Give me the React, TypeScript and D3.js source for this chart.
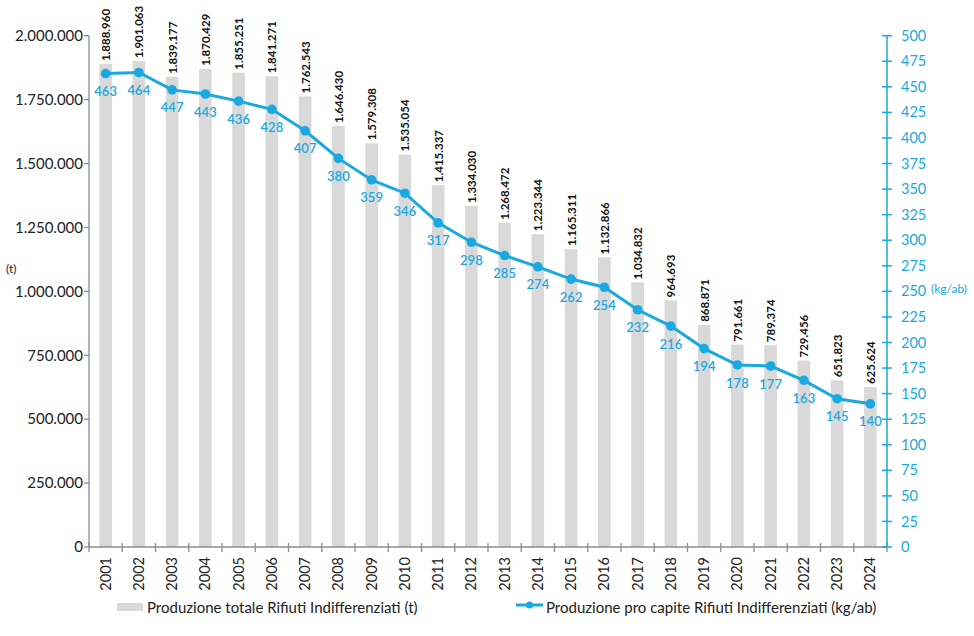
import React from "react";
import * as d3 from "d3";

const years = ["2001","2002","2003","2004","2005","2006","2007","2008","2009","2010","2011","2012","2013","2014","2015","2016","2017","2018","2019","2020","2021","2022","2023","2024"];
const totals = [1888960,1901063,1839177,1870429,1855251,1841271,1762543,1646430,1579308,1535054,1415337,1334030,1268472,1223344,1165311,1132866,1034832,964693,868871,791661,789374,729456,651823,625624];
const perCapita = [463,464,447,443,436,428,407,380,359,346,317,298,285,274,262,254,232,216,194,178,177,163,145,140];
const leftTicks = d3.range(0, 2000001, 250000);
const rightTicks = d3.range(0, 501, 25);

const BLUE = "#19A9E1";
const GRAY_AXIS = "#8C8C8C";
const BAR = "#D9D9D9";
const FONT = "Lato, 'Open Sans', sans-serif";

const fmt = (v: number) => d3.format(",")(v).replace(/,/g, ".");

export default function App() {
  const W = 974, H = 636;
  const left = 89, right = 887, top = 35.7, bottom = 547;

  const x = d3.scaleBand().domain(years).range([left, right]).paddingInner(0.62).paddingOuter(0.31);
  const band = d3.scaleBand().domain(years).range([left, right]);
  const yL = d3.scaleLinear().domain([0, 2000000]).range([bottom, top]);
  const yR = d3.scaleLinear().domain([0, 500]).range([bottom, top]);
  const cx = (i: number) => band(years[i])! + band.bandwidth() / 2;

  const line = d3.line<number>().x((_, i) => cx(i)).y((d) => yR(d));

  return (
    <svg width={W} height={H} style={{ position: "absolute", left: 0, top: 0, fontFamily: FONT }}>
      <rect width={W} height={H} fill="#fff" />

      {/* bars */}
      {totals.map((v, i) => (
        <rect key={years[i]} x={cx(i) - x.bandwidth() / 2} y={yL(v)} width={x.bandwidth()} height={bottom - yL(v)} fill={BAR} />
      ))}

      {/* bar labels */}
      {totals.map((v, i) => (
        <text key={"bl" + i} transform={`translate(${cx(i) + 4.5},${yL(v) - 3}) rotate(-90)`} fontSize={11.5} fontWeight={700} fill="#111">
          {fmt(v)}
        </text>
      ))}

      {/* left axis */}
      <line x1={left} x2={left} y1={top} y2={bottom} stroke={GRAY_AXIS} strokeWidth={1.3} />
      {leftTicks.map((t) => (
        <g key={"lt" + t}>
          <line x1={left - 5} x2={left} y1={yL(t)} y2={yL(t)} stroke={GRAY_AXIS} strokeWidth={1.3} />
          <text x={left - 6} y={yL(t)} dy="0.35em" textAnchor="end" fontSize={15} fill="#222">{fmt(t)}</text>
        </g>
      ))}
      <text x={6} y={269} dy="0.35em" fontSize={12} fill="#222">(t)</text>

      {/* x axis */}
      <line x1={left} x2={right} y1={bottom} y2={bottom} stroke={GRAY_AXIS} strokeWidth={1.3} />
      {years.map((yr, i) => (
        <line key={"xt" + yr} x1={band(yr)!} x2={band(yr)!} y1={bottom - 4} y2={bottom + 5} stroke={GRAY_AXIS} strokeWidth={1.3} />
      ))}
      <line x1={right} x2={right} y1={bottom - 4} y2={bottom + 5} stroke={GRAY_AXIS} strokeWidth={1.3} />
      {years.map((yr, i) => (
        <text key={"xl" + yr} transform={`translate(${cx(i) + 5},${bottom + 10}) rotate(-90)`} textAnchor="end" fontSize={14.5} fill="#222">{yr}</text>
      ))}

      {/* right axis */}
      <line x1={right} x2={right} y1={top} y2={bottom} stroke={BLUE} strokeWidth={1.5} />
      {rightTicks.map((t) => (
        <g key={"rt" + t}>
          <line x1={right - 5} x2={right + 5} y1={yR(t)} y2={yR(t)} stroke={BLUE} strokeWidth={1.5} />
          <text x={right + 14} y={yR(t)} dy="0.35em" fontSize={14.5} fill={BLUE}>{t}</text>
        </g>
      ))}
      <text x={931} y={289} dy="0.35em" fontSize={12} fill={BLUE}>(kg/ab)</text>

      {/* line */}
      <path d={line(perCapita)!} fill="none" stroke={BLUE} strokeWidth={3} />
      {perCapita.map((v, i) => (
        <circle key={"pt" + i} cx={cx(i)} cy={yR(v)} r={4.8} fill={BLUE} />
      ))}
      {perCapita.map((v, i) => (
        <text key={"pl" + i} x={cx(i)} y={yR(v) + 18} dy="0.35em" textAnchor="middle" fontSize={13} fill={BLUE} fontWeight={600}>{v}</text>
      ))}

      {/* legend */}
      <rect x={117} y={603} width={26} height={8} fill={BAR} />
      <text x={147} y={608} dy="0.35em" fontSize={15} fill="#222">Produzione totale Rifiuti Indifferenziati (t)</text>
      <line x1={516} x2={543} y1={605} y2={605} stroke={BLUE} strokeWidth={3} />
      <circle cx={529.5} cy={605} r={3.5} fill={BLUE} />
      <text x={546} y={608} dy="0.35em" fontSize={15} fill="#222">Produzione pro capite Rifiuti Indifferenziati (kg/ab)</text>
    </svg>
  );
}
